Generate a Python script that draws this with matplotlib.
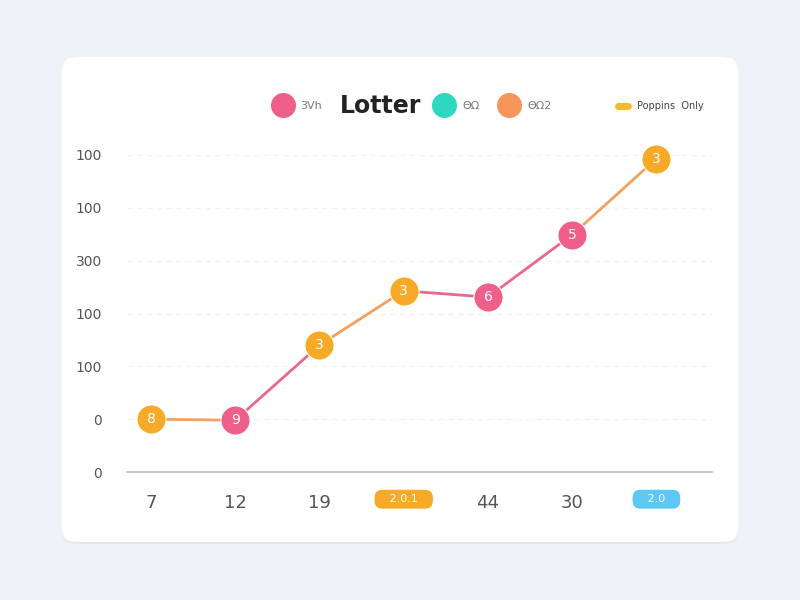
import matplotlib
matplotlib.use('Agg')
from matplotlib import pyplot as plt
from matplotlib.patches import FancyBboxPatch
from matplotlib.lines import Line2D

# data
x_labels = ['7', '12', '19', '2.0.1', '44', '30', '2.0']
values = [100, 98, 240, 343, 331, 449, 593]
point_text = ['8', '9', '3', '3', '6', '5', '3']
point_colors = ['#F7A928', '#EE5F8A', '#F7A928', '#F7A928', '#EE5F8A', '#EE5F8A', '#F7A928']
segment_colors = ['#F0A060', '#E8688E', '#F0A060', '#E8688E', '#E8688E', '#F0A060']
y_ticks = [0, 100, 200, 300, 400, 500, 600]
y_labels = ['0', '0', '100', '100', '300', '100', '100']

fig = plt.figure(figsize=(8, 6), dpi=100)
fig.patch.set_facecolor('#EEF1F7')

# card
shadow = FancyBboxPatch((62/800, 1-544/600), 676/800, 487/600,
                        boxstyle='round,pad=0,rounding_size=0.02',
                        transform=fig.transFigure, fc='#E3E7EF', ec='none', zorder=0)
card = FancyBboxPatch((62/800, 1-542/600), 676/800, 485/600,
                      boxstyle='round,pad=0,rounding_size=0.02',
                      transform=fig.transFigure, fc='white', ec='none', zorder=0)
fig.add_artist(shadow)
fig.add_artist(card)

ax = fig.add_axes([127/800, 1-472/600, 585/800, 317/600])
ax.set_facecolor('none')
xs = list(range(len(values)))
ax.set_xlim(-0.285, 6.66)
ax.set_ylim(0, 600)

for i in range(len(values) - 1):
    ax.plot(xs[i:i+2], values[i:i+2], color=segment_colors[i], lw=2, zorder=2,
            solid_capstyle='round')
for x, v, c, t in zip(xs, values, point_colors, point_text):
    ax.plot(x, v, 'o', ms=21, color=c, mec='white', mew=0.8, zorder=3, clip_on=False)
    ax.text(x, v, t, color='white', fontsize=10, ha='center', va='center', zorder=4)

ax.set_yticks(y_ticks)
ax.set_yticklabels(y_labels)
ax.set_xticks(xs)
ax.set_xticklabels(x_labels)
for s in ['top', 'right', 'left']:
    ax.spines[s].set_visible(False)
ax.spines['bottom'].set_color('#BBBBBB')
ax.spines['bottom'].set_linewidth(1.2)
ax.tick_params(axis='both', length=0)
ax.tick_params(axis='y', labelsize=10, labelcolor='#555555', pad=18)
ax.tick_params(axis='x', labelsize=13, labelcolor='#555555', pad=16)
ax.grid(axis='y', color='#F2F2F2', lw=1, ls=(0, (4, 3)))
ax.set_axisbelow(True)

labs = ax.get_xticklabels()
for idx, col in [(3, '#F7A928'), (6, '#5BC8F5')]:
    labs[idx].set_text('   ' + labs[idx].get_text() + '   ')
    labs[idx].set_fontsize(8)
    labs[idx].set_color('white')
    labs[idx].set_bbox(dict(boxstyle='round,pad=0.4,rounding_size=0.7', fc=col, ec='none'))
ax.set_xticklabels(labs)

# legend / title row
def dot(px, py, color, size=17):
    fig.add_artist(Line2D([px/800], [1-py/600], marker='o', ms=size, color=color,
                          transform=fig.transFigure))

dot(283, 105, '#EE5F8A')
fig.text(300/800, 1-106/600, '3Vh', fontsize=8, color='#777777', va='center')
fig.text(381/800, 1-106/600, 'Lotter', fontsize=17, fontweight='bold', color='#222222',
         ha='center', va='center')
dot(444, 105, '#2ED8C0')
fig.text(462/800, 1-106/600, 'ΘΩ', fontsize=8, color='#777777', va='center')
dot(509, 105, '#F7955A')
fig.text(527/800, 1-106/600, 'ΘΩ2', fontsize=8, color='#777777', va='center')
fig.add_artist(Line2D([618/800, 628/800], [1-106/600, 1-106/600], lw=5, color='#F7B928',
                      solid_capstyle='round', transform=fig.transFigure))
fig.text(637/800, 1-106/600, 'Poppins  Only', fontsize=7, color='#444444', va='center')

plt.savefig('out.png', dpi=100, facecolor=fig.get_facecolor())
